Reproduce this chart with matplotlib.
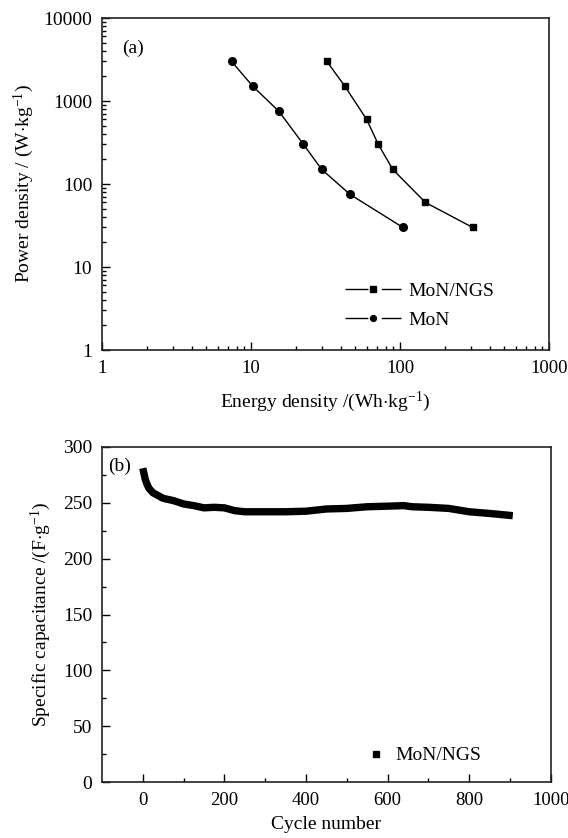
import matplotlib.pyplot as plt
from matplotlib.lines import Line2D

# ------------------------------------------------------
# Values
# ------------------------------------------------------
# (a) Ragone plot
ngs_energy = [32.3, 42.7, 59.7, 71.5, 89.4, 148, 307]
ngs_power = [3000, 1500, 600, 300, 150, 60, 30]
mon_energy = [7.4, 10.3, 15.4, 22.5, 29.8, 46.2, 104.5]
mon_power = [3000, 1500, 750, 300, 150, 75, 30]

# (b) cycling stability of MoN/NGS
cycles = [0, 3, 6, 10, 15, 25, 50, 75, 100, 125, 150, 175, 200, 225, 250,
          300, 350, 400, 450, 500, 550, 600, 640, 660, 700, 750, 800, 850,
          907]
capacitance = [281, 276, 271, 267, 263, 259, 254, 252, 249, 247.5, 245.5,
               246, 245.5, 243, 242, 242, 242, 242.5, 244.5, 245, 246.5, 247,
               247.5, 246.5, 246, 245, 242, 240.5, 238.5]

FS = 14

plt.rcParams['font.family'] = ['Liberation Serif', 'DejaVu Serif']
plt.rcParams['mathtext.fontset'] = 'custom'
plt.rcParams['mathtext.rm'] = 'Liberation Serif'
plt.rcParams['mathtext.it'] = 'Liberation Serif:italic'
plt.rcParams['font.size'] = FS
plt.rcParams['lines.scale_dashes'] = False


def style_axes(ax):
    ax.tick_params(which='both', direction='in', top=False, right=False,
                   labelsize=FS, pad=7)
    ax.tick_params(axis='x', labelsize=13.5)
    ax.tick_params(which='major', length=6, width=1.0)
    ax.tick_params(which='minor', length=3, width=1.0)
    for s in ax.spines.values():
        s.set_linewidth(1.2)
        s.set_color('#222222')


def plot_figure():
    fig = plt.figure(figsize=(5.68, 8.38), dpi=100)

    # ----------- (a) Power vs energy density -------------
    ax1 = fig.add_axes([0.1796, 0.5823, 0.787, 0.3962])
    ax1.plot(ngs_energy, ngs_power, '-', color='black', lw=1.0,
             marker='s', ms=5)
    ax1.plot(mon_energy, mon_power, '-', color='black', lw=1.0,
             marker='o', ms=5.5)
    ax1.set_xscale('log')
    ax1.set_yscale('log')
    ax1.set_xlim(1, 1000)
    ax1.set_ylim(1, 10000)
    ax1.set_xticks([1, 10, 100, 1000])
    ax1.set_xticklabels(['1', '10', '100', '1000'])
    ax1.set_yticks([1, 10, 100, 1000, 10000])
    ax1.set_yticklabels(['1', '10', '100', '1000', '10000'])
    ax1.set_xlabel(r'Energy density /(Wh$\cdot$kg$^{-1}$)', labelpad=9)
    ax1.set_ylabel(r'Power density / (W$\cdot$kg$^{-1}$)', labelpad=5)
    style_axes(ax1)
    ax1.text(0.045, 0.91, '(a)', transform=ax1.transAxes, fontsize=FS,
             va='center')
    dash = (0, (16.5, 9.6, 14.4, 50))
    h_ngs = Line2D([], [], color='black', lw=1.0, ls=dash, marker='s', ms=3.8)
    h_mon = Line2D([], [], color='black', lw=1.0, ls=dash, marker='o', ms=4.2)
    ax1.legend([h_ngs, h_mon], ['MoN/NGS', 'MoN'], loc='upper left',
               bbox_to_anchor=(0.543, 0.205), frameon=False, fontsize=FS,
               borderpad=0, borderaxespad=0, handlelength=2.9,
               handletextpad=0.36, labelspacing=0.6, numpoints=1)

    # ----------- (b) Cycling stability -------------------
    ax2 = fig.add_axes([0.1796, 0.0668, 0.790, 0.3998])
    ax2.plot(cycles, capacitance, '-', color='black', lw=5.3,
             solid_capstyle='butt', solid_joinstyle='round')
    ax2.set_xlim(-100, 1000)
    ax2.set_ylim(0, 300)
    ax2.set_xticks(range(0, 1001, 200))
    ax2.set_xticks(range(100, 1000, 200), minor=True)
    ax2.set_yticks(range(0, 301, 50))
    ax2.set_yticks(range(25, 300, 50), minor=True)
    ax2.set_xlabel('Cycle number', labelpad=5)
    ax2.set_ylabel(r'Specific capacitance /(F$\cdot$g$^{-1}$)', labelpad=7)
    style_axes(ax2)
    ax2.text(0.013, 0.943, '(b)', transform=ax2.transAxes, fontsize=FS,
             va='center')
    handle = Line2D([], [], color='black', ls='none', marker='s', ms=5)
    ax2.legend([handle], ['MoN/NGS'], loc='upper left',
               bbox_to_anchor=(0.59, 0.105), frameon=False, fontsize=FS,
               borderpad=0, borderaxespad=0, handlelength=1.0,
               handletextpad=0.46)

    fig.savefig('out.png', dpi=100)


if __name__ == "__main__":
    plot_figure()
